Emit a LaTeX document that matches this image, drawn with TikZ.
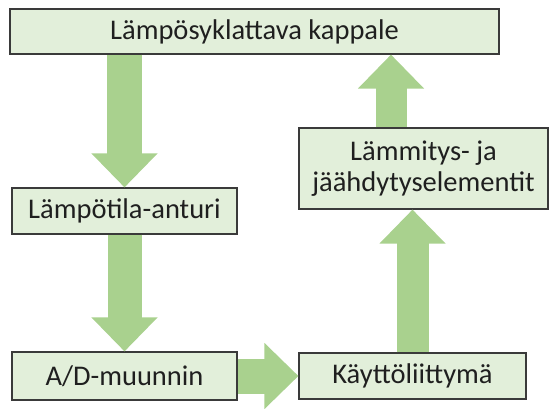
\documentclass[tikz,border=0pt]{standalone}
\usepackage{fontspec}
\setmainfont{Carlito}
\usetikzlibrary{arrows.meta}
\definecolor{boxfill}{HTML}{E2EFDA}
\definecolor{boxline}{HTML}{3A3A3A}
\definecolor{arrowfill}{HTML}{A9D18E}
\tikzset{
  block/.style={draw=boxline, fill=boxfill, line width=1.1pt, inner sep=0pt,
    align=center, text=black!88, font=\fontsize{28.5}{31}\selectfont},
  flow/.style={draw=arrowfill, line width=#1,
    -{Triangle[length=34pt, width=64pt]}},
}
\begin{document}
\begin{tikzpicture}[x=1pt, y=-1pt]
        \useasboundingbox (0,0) rectangle (551,408);
        \node[block, minimum width=489pt, minimum height=45pt] (kappale) at (254.5,31.5) {Lämpösyklattava kappale};
        \node[block, minimum width=225pt, minimum height=46pt] (anturi) at (124.5,211) {Lämpötila-anturi};
        \node[block, minimum width=225pt, minimum height=48pt] (muunnin) at (124.5,376) {A/D-muunnin};
        \node[block, minimum width=227pt, minimum height=46pt] (kaytto) at (412.5,376) {Käyttöliittymä};
        \node[block, minimum width=249pt, minimum height=81pt] (elementit) at (423.5,168.5) {Lämmitys- ja\\jäähdytyselementit};
        % block arrows
        \draw[flow=35pt] (kappale.south -| anturi.north) -- (anturi.north);
        \draw[flow=34pt] (anturi.south) -- (muunnin.north);
        \draw[flow=35pt] (muunnin.east) -- (kaytto.west);
        \draw[flow=32pt] (kaytto.north) -- (elementit.south -| kaytto.north);
        \coordinate (nousu) at (391,0);
        \draw[flow=31pt] (elementit.north -| nousu) -- (kappale.south -| nousu);
    \end{tikzpicture}
\end{document}
